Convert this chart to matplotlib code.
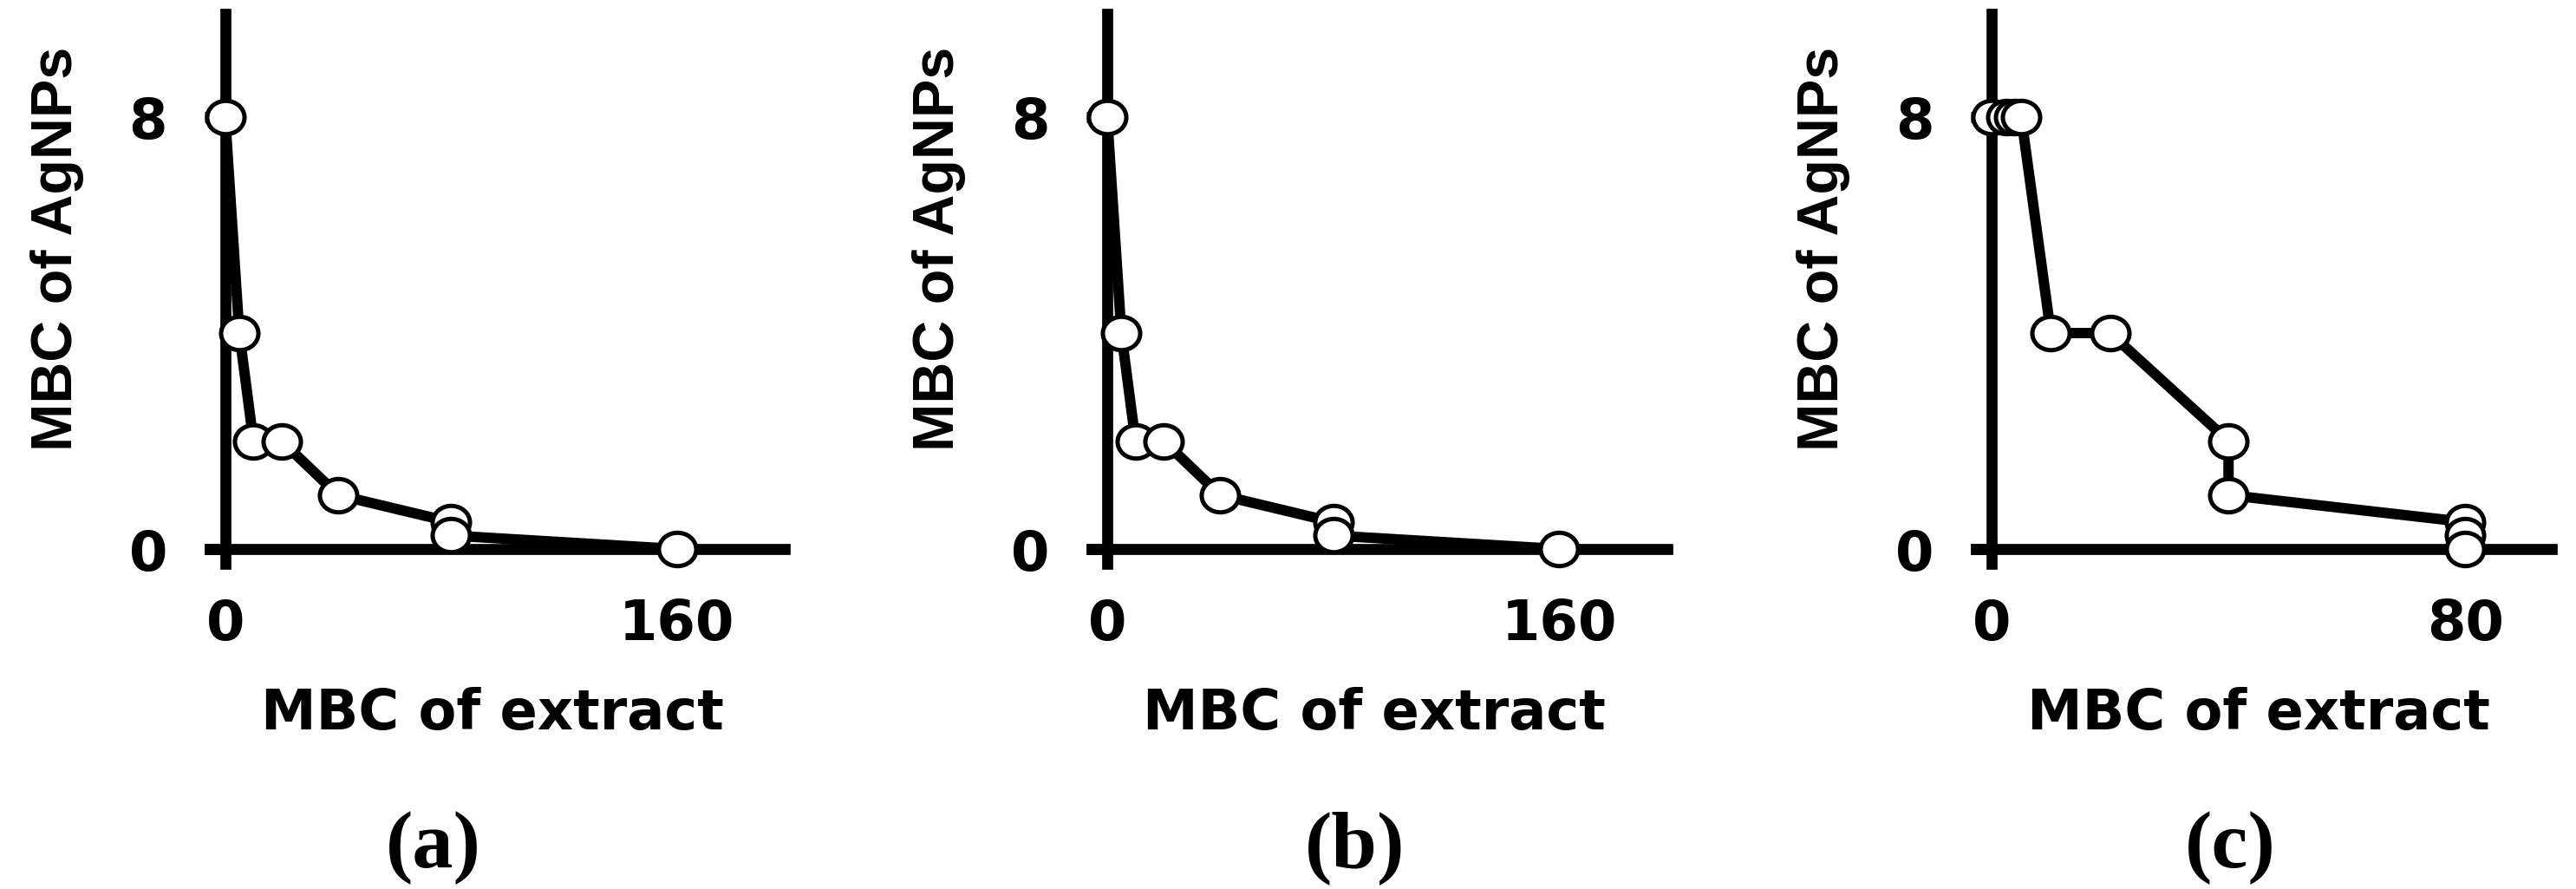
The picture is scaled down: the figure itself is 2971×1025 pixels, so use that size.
import matplotlib
matplotlib.use('Agg')
import matplotlib.pyplot as plt
from matplotlib.path import Path
from matplotlib.transforms import Affine2D

# ---------------- data ----------------
panel_labels = ['(a)', '(b)', '(c)']
x_label = 'MBC of extract'
y_label = 'MBC of AgNPs'

a_extract = [0, 5, 10, 20, 40, 80, 80, 160]
a_agnps = [8, 4, 2, 2, 1, 0.5, 0.25, 0]

b_extract = [0, 5, 10, 20, 40, 80, 80, 160]
b_agnps = [8, 4, 2, 2, 1, 0.5, 0.25, 0]

c_extract = [0, 2.5, 3.75, 5, 10, 20, 40, 40, 80, 80, 80]
c_agnps = [8, 8, 8, 8, 4, 4, 2, 1, 0.5, 0.25, 0]

ab_xticks = [0, 160]
c_xticks = [0, 80]
y_ticks = [0, 8]

# ---------------- layout ----------------
W, H, DPI = 2971, 1025, 100
PT = DPI / 72.0  # px per point

fig = plt.figure(figsize=(W / DPI, H / DPI), dpi=DPI)

ax_lefts = [241.5, 1258.8, 2278.8]
ax_w = 663.7
ax_top, ax_bot = 15.8, 650.2
xlims = [(-5.59, 198.2), (-5.59, 198.2), (-2.67, 94.5)]
ylim = (-0.276, 9.915)
label_centers = [500, 1563, 2572]
label_baseline = 1000

datasets = [(a_extract, a_agnps, ab_xticks),
            (b_extract, b_agnps, ab_xticks),
            (c_extract, c_agnps, c_xticks)]

spine_lw = 12.7 / PT
line_lw = 12 / PT

# slightly wide circle marker, as in the reference
ellipse = Path.unit_circle().transformed(Affine2D().scale(1.12, 1.0))

for i, (xs, ys, xt) in enumerate(datasets):
    left = ax_lefts[i]
    ax = fig.add_axes([left / W, 1 - ax_bot / H, ax_w / W, (ax_bot - ax_top) / H])
    ax.set_xlim(*xlims[i])
    ax.set_ylim(*ylim)
    for s in ['top', 'right']:
        ax.spines[s].set_visible(False)
    ax.spines['left'].set_position(('data', 0))
    ax.spines['bottom'].set_position(('data', 0))
    for s in ['left', 'bottom']:
        ax.spines[s].set_linewidth(spine_lw)
        ax.spines[s].set_color('black')

    ax.plot(xs, ys, '-', color='black', lw=line_lw, solid_joinstyle='round',
            solid_capstyle='round', zorder=3, clip_on=False)
    ax.plot(xs, ys, marker=ellipse, ls='none', ms=31, mfc='white', mec='black',
            mew=3.6, zorder=4, clip_on=False)

    ax.set_xticks(xt)
    ax.set_yticks(y_ticks)
    ax.set_xticklabels([str(v) for v in xt], fontfamily='DejaVu Sans',
                       fontweight='bold', fontsize=46)
    ax.set_yticklabels([str(v) for v in y_ticks], fontfamily='DejaVu Sans',
                       fontweight='bold', fontsize=46)
    ax.tick_params(axis='x', length=0, pad=40)
    ax.tick_params(axis='y', length=17, width=spine_lw, direction='out', pad=31)

    ax.set_xlabel(x_label, fontfamily='DejaVu Sans', fontweight='bold', fontsize=46)
    ax.xaxis.label.set_va('baseline')
    ax.xaxis.set_label_coords(0.492, -0.3008)
    ax.set_ylabel(y_label, fontfamily='Liberation Sans', fontweight='bold', fontsize=47.8)
    ax.yaxis.set_label_coords(-0.2177, 0.5725)

    fig.text(label_centers[i] / W, 1 - label_baseline / H, panel_labels[i],
             ha='center', va='baseline', fontfamily='Liberation Serif',
             fontweight='bold', fontsize=68)

fig.savefig('out.png', dpi=DPI, facecolor='white')
